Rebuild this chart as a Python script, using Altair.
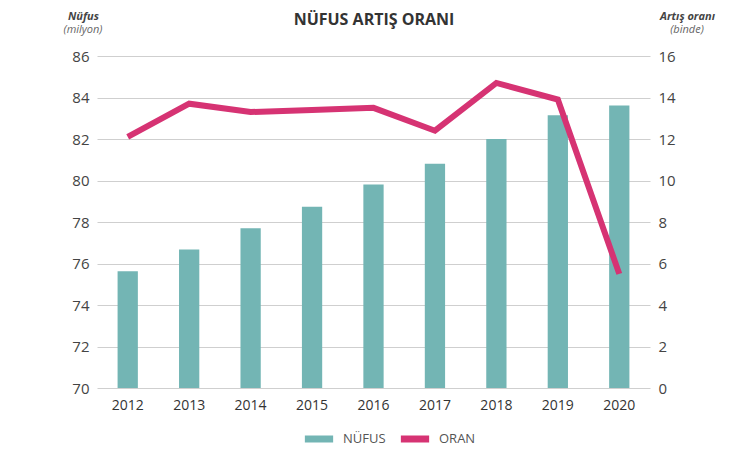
import altair as alt
import pandas as pd

years = ["2012", "2013", "2014", "2015", "2016", "2017", "2018", "2019", "2020"]
nufus = [75.63, 76.67, 77.70, 78.74, 79.81, 80.81, 82.00, 83.15, 83.61]
oran = [12.1, 13.7, 13.3, 13.4, 13.5, 12.4, 14.7, 13.9, 5.5]
series_names = ["NÜFUS", "ORAN"]

df = pd.DataFrame({"year": years, "nufus": nufus, "oran": oran})

FONT = "Open Sans"
TEAL = "#73b5b4"
MAGENTA = "#d63373"

color_scale = alt.Scale(domain=series_names, range=[TEAL, MAGENTA])
color_legend = alt.Legend(
    title=None, orient="none", direction="horizontal",
    legendX=204, legendY=365,
    symbolType="stroke", symbolSize=800, symbolStrokeWidth=7,
    labelFont=FONT, labelFontSize=13, labelColor="#555555",
    columnPadding=0, labelOffset=6,
)

x = alt.X("year:N", title=None, sort=years,
          scale=alt.Scale(paddingInner=0.67, paddingOuter=0.335),
          axis=alt.Axis(labelAngle=0, ticks=False, domain=False, labelPadding=10,
                        labelFont=FONT, labelFontSize=14, labelColor="#333333"))

base = alt.Chart(df).encode(x=x)

bars = base.mark_bar().transform_calculate(series="'NÜFUS'").encode(
    y=alt.Y("nufus:Q", scale=alt.Scale(domain=[70, 86], zero=False, nice=False),
            axis=alt.Axis(values=list(range(70, 87, 2)), grid=True, gridColor="#cfcfcf",
                          domain=False, ticks=False, labelPadding=8,
                          labelFont=FONT, labelFontSize=15, labelColor="#444444",
                          title="Nüfus", titleAngle=0, titleX=-14, titleY=-35,
                          titleAlign="center", titleFont=FONT, titleFontSize=11,
                          titleFontWeight="bold", titleFontStyle="italic", titleColor="#444444")),
    y2=alt.datum(70),
    color=alt.Color("series:N", scale=color_scale, legend=color_legend),
)

line = base.mark_line(strokeWidth=6, strokeJoin="miter").transform_calculate(series="'ORAN'").encode(
    y=alt.Y("oran:Q", scale=alt.Scale(domain=[0, 16], nice=False),
            axis=alt.Axis(values=list(range(0, 17, 2)), grid=False,
                          domain=False, ticks=False, labelPadding=8,
                          labelFont=FONT, labelFontSize=15, labelColor="#444444",
                          title="Artış oranı", titleAngle=0, titleX=37, titleY=-35,
                          titleAlign="center", titleFont=FONT, titleFontSize=11,
                          titleFontWeight="bold", titleFontStyle="italic", titleColor="#444444")),
    color=alt.Color("series:N", scale=color_scale, legend=color_legend),
)

sub_l = alt.Chart(alt.Data(values=[{}])).mark_text(
    text="(milyon)", font=FONT, fontSize=11, fontStyle="italic", color="#666666"
).encode(x=alt.value(-14), y=alt.value(-26))

sub_r = alt.Chart(alt.Data(values=[{}])).mark_text(
    text="(binde)", font=FONT, fontSize=11, fontStyle="italic", color="#666666"
).encode(x=alt.value(590), y=alt.value(-26))

title = alt.Chart(alt.Data(values=[{}])).mark_text(
    text="NÜFUS ARTIŞ ORANI", font=FONT, fontSize=16, fontWeight="bold", color="#333333"
).encode(x=alt.value(277), y=alt.value(-36))

chart = alt.layer(bars, line, sub_l, sub_r, title).resolve_scale(y="independent").properties(
    width=553, height=332,
    autosize=alt.AutoSizeParams(type="none"),
    padding={"left": 97, "top": 56, "right": 100, "bottom": 77},
).configure_view(stroke=None)

chart.save("out.html", embed_options={"renderer": "svg", "actions": False})
